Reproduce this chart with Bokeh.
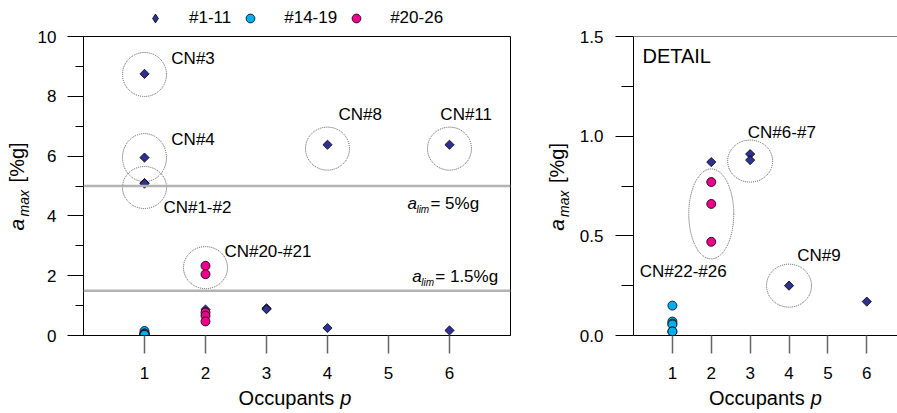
import numpy as np
from bokeh.plotting import figure
from bokeh.models import Span, Legend, LegendItem, FixedTicker, Range1d, NumeralTickFormatter
from bokeh.layouts import row, column
from bokeh.embed import file_html
from bokeh.resources import INLINE
from bokeh.core.properties import value

FONT = "Liberation Sans"

# ---------------- data ----------------
occupant_ticks = [1, 2, 3, 4, 5, 6]

# #1-11 (diamonds)
g1_p = [1, 1, 1, 1, 2, 3, 3, 4, 4, 6, 6]
g1_a = [5.10, 5.08, 8.75, 5.95, 0.87, 0.91, 0.88, 6.38, 0.25, 0.17, 6.38]
# #14-19 (cyan circles)
g2_p = [1, 1, 1, 1, 1, 1]
g2_a = [0.15, 0.07, 0.06, 0.055, 0.02, 0.02]
# #20-26 (magenta circles)
g3_p = [2, 2, 2, 2, 2]
g3_a = [2.33, 2.05, 0.77, 0.66, 0.47]

legend_labels = ["#1-11", "#14-19", "#20-26"]

limit_values = [5.0, 1.5]
limit_texts = ["= 5%g", "= 1.5%g"]

# annotations (main plot)
ann_main_text = ["CN#3", "CN#4", "CN#1-#2", "CN#8", "CN#11", "CN#20-#21"]
ann_main_x = [1.44, 1.44, 1.31, 4.18, 5.85, 2.31]
ann_main_y = [9.26, 6.55, 4.28, 7.39, 7.39, 2.81]
circ_main_x = [1, 1, 1, 4, 6, 2]
circ_main_y = [8.73, 5.95, 4.95, 6.25, 6.25, 2.27]
circ_main_w = [44, 44, 44, 44, 44, 44]
circ_main_h = [44, 48, 42, 43, 43, 42]

# annotations (detail plot)
ann_det_text = ["CN#6-#7", "CN#9", "CN#22-#26"]
ann_det_x = [2.94, 4.21, 0.16]
ann_det_y = [1.02, 0.40, 0.32]
circ_det_x = [3, 2, 4]
circ_det_y = [0.875, 0.61, 0.25]
circ_det_w = [45, 45, 45]
circ_det_h = [42, 90, 43]

NAVY = "#2e3192"
CYAN = "#00aeef"
MAGENTA = "#ec008c"

H_TOP, H_MID, H_BOT = 29, 356, 28
BORDER_TOP, BORDER_BOTTOM = 7, 50


def style_axes(p, yticks, yminor, tick_out, minor_out, y_fmt=None):
    p.xaxis.ticker = FixedTicker(ticks=occupant_ticks)
    p.yaxis.ticker = FixedTicker(ticks=yticks, minor_ticks=yminor)
    if y_fmt:
        p.yaxis.formatter = NumeralTickFormatter(format=y_fmt)
    p.grid.visible = False
    for ax in (p.xaxis, p.yaxis):
        ax.axis_line_color = "black"
        ax.major_label_text_font = FONT
        ax.major_label_text_font_size = "17px"
        ax.major_label_text_color = "black"
        ax.major_tick_in = 0
    p.yaxis.major_tick_out = tick_out
    p.yaxis.minor_tick_out = minor_out
    p.yaxis.minor_tick_in = 0
    p.yaxis.major_tick_line_color = "black"
    p.yaxis.minor_tick_line_color = "black"
    p.yaxis.major_label_standoff = 11
    p.xaxis.major_tick_out = 18
    p.xaxis.major_tick_line_color = "#666666"
    p.xaxis.major_tick_line_width = 1.5
    p.xaxis.minor_tick_line_color = None
    p.xaxis.major_label_standoff = 13


def draw_points(p, xs1, ys1, xs2, ys2, xs3, ys3):
    r1 = p.scatter(xs1, ys1, marker="square", angle=np.pi / 4, size=6.5,
                   fill_color=NAVY, line_color="black", line_width=0.8)
    r2 = p.scatter(xs2, ys2, marker="circle", size=9,
                   fill_color=CYAN, line_color="black", line_width=0.8)
    r3 = p.scatter(xs3, ys3, marker="circle", size=9,
                   fill_color=MAGENTA, line_color="black", line_width=0.8)
    return r1, r2, r3


def blank(width, height, x_range, y_range, **borders):
    f = figure(width=width, height=height, x_range=x_range, y_range=y_range,
               x_axis_location=None, y_axis_location=None,
               output_backend="svg", toolbar_location=None, title=None,
               min_border_left=borders.get("left", 0), min_border_right=borders.get("right", 0),
               min_border_top=borders.get("top", 0), min_border_bottom=borders.get("bottom", 0))
    f.outline_line_color = None
    f.grid.visible = False
    return f


def ylabel_fig(width, y_range, x_a, x_sub, y_a, y_sub, y_unit):
    f = blank(width, H_MID, Range1d(0, width), y_range, top=BORDER_TOP, bottom=BORDER_BOTTOM)
    f.text([x_a], [y_a], text=["a"], angle=np.pi / 2, text_font=value(FONT),
           text_font_style="italic", text_font_size="21px",
           text_align="left", text_baseline="middle")
    f.text([x_sub], [y_sub], text=["max"], angle=np.pi / 2, text_font=value(FONT),
           text_font_style="italic", text_font_size="14px",
           text_align="left", text_baseline="middle")
    f.text([x_a], [y_unit], text=["[%g]"], angle=np.pi / 2, text_font=value(FONT),
           text_font_size="20px", text_align="left", text_baseline="middle")
    return f


def xlabel_fig(width, x_range, left, right, x):
    f = blank(width, H_BOT, x_range, Range1d(0, 1), left=left, right=right)
    f.text([x], [0.57], text=["Occupants"], text_font=value(FONT), text_font_size="20px",
           text_align="right", text_baseline="middle")
    f.text([x], [0.57], text=["p"], x_offset=6, text_font=value(FONT),
           text_font_style="italic", text_font_size="20px",
           text_align="left", text_baseline="middle")
    return f


# ---------------- main plot ----------------
p1 = figure(width=510, height=H_MID, x_range=Range1d(0, 7), y_range=Range1d(0, 10),
            output_backend="svg", toolbar_location=None, title=None,
            min_border_left=53, min_border_right=30, min_border_top=BORDER_TOP,
            min_border_bottom=BORDER_BOTTOM)
p1.outline_line_color = "black"
style_axes(p1, [0, 2, 4, 6, 8, 10], [1, 3, 5, 7, 9], 16, 8)

for v in limit_values:
    p1.add_layout(Span(location=v, dimension="width", line_color="#b3b3b3", line_width=2.5))

p1.ellipse(circ_main_x, circ_main_y, width=circ_main_w, height=circ_main_h,
           width_units="screen", height_units="screen",
           fill_color=None, line_color="#555555", line_dash="1 1", line_width=1)

draw_points(p1, g1_p, g1_a, g2_p, g2_a, g3_p, g3_a)

p1.text(ann_main_x, ann_main_y, text=ann_main_text, text_font=value(FONT),
        text_font_size="17px", text_baseline="middle", text_align="left", text_color="black")

lim_x = [5.31, 5.39]
lim_y = [4.41, 1.97]
p1.text(lim_x, lim_y, text=["a", "a"], text_font=value(FONT), text_font_style="italic",
        text_font_size="17px", text_baseline="middle", text_align="left")
p1.text(lim_x, [y - 0.2 for y in lim_y], text=["lim", "lim"], text_font=value(FONT),
        text_font_style="italic", text_font_size="10px", text_baseline="middle",
        text_align="left", x_offset=9)
p1.text(lim_x, lim_y, text=limit_texts, text_font=value(FONT),
        text_font_size="17px", text_baseline="middle", text_align="left", x_offset=23)

# legend strip above the main plot (legend swatches only, no data drawn)
leg_fig = blank(540, H_TOP, Range1d(0, 1), Range1d(0, 1), left=83, right=30)
nan = [np.nan]
l1 = leg_fig.scatter(nan, nan, marker="diamond", size=9,
                     fill_color=NAVY, line_color="black", line_width=0.8)
l2 = leg_fig.scatter(nan, nan, marker="circle", size=9,
                     fill_color=CYAN, line_color="black", line_width=0.8)
l3 = leg_fig.scatter(nan, nan, marker="circle", size=9,
                     fill_color=MAGENTA, line_color="black", line_width=0.8)
legend = Legend(items=[LegendItem(label=legend_labels[0], renderers=[l1]),
                       LegendItem(label=legend_labels[1], renderers=[l2]),
                       LegendItem(label=legend_labels[2], renderers=[l3])],
                orientation="horizontal", location=(61, 0),
                label_text_font=FONT, label_text_font_size="17px", label_text_color="black",
                label_standoff=23, spacing=8, glyph_width=22, glyph_height=22,
                label_height=22, padding=0, margin=0,
                border_line_color=None, background_fill_alpha=0)
leg_fig.add_layout(legend)

ylab1 = ylabel_fig(30, p1.y_range, 16, 23, 3.51, 3.98, 5.12)
xlab1 = xlabel_fig(540, p1.x_range, 83, 30, 4.11)

# ---------------- detail plot ----------------
p2 = figure(width=321, height=H_MID, x_range=Range1d(0, 6.79), y_range=Range1d(0, 1.5),
            output_backend="svg", toolbar_location=None, title=None,
            min_border_left=55, min_border_right=0, min_border_top=BORDER_TOP,
            min_border_bottom=BORDER_BOTTOM)
p2.outline_line_color = None
style_axes(p2, [0, 0.5, 1.0, 1.5], [0.25, 0.75, 1.25], 18, 12, "0.0")
p2.yaxis.major_label_standoff = 12
p2.add_layout(Span(location=1.5, dimension="width", line_color="black", line_width=1))

p2.ellipse(circ_det_x, circ_det_y, width=circ_det_w, height=circ_det_h,
           width_units="screen", height_units="screen",
           fill_color=None, line_color="#555555", line_dash="1 1", line_width=1)
draw_points(p2, g1_p, g1_a, g2_p, g2_a, g3_p, g3_a)

p2.text(ann_det_x, ann_det_y, text=ann_det_text, text_font=value(FONT),
        text_font_size="17px", text_baseline="middle", text_align="left")
p2.text([0.23], [1.40], text=["DETAIL"], text_font=value(FONT),
        text_font_size="20px", text_baseline="middle", text_align="left")

ylab2 = ylabel_fig(36, p2.y_range, 16, 23, 0.525, 0.595, 0.765)
xlab2 = xlabel_fig(357, p2.x_range, 91, 0, 4.42)

layout = column(leg_fig,
                row(ylab1, p1, ylab2, p2),
                row(xlab1, xlab2))
open("out.html", "w").write(file_html(layout, INLINE))
